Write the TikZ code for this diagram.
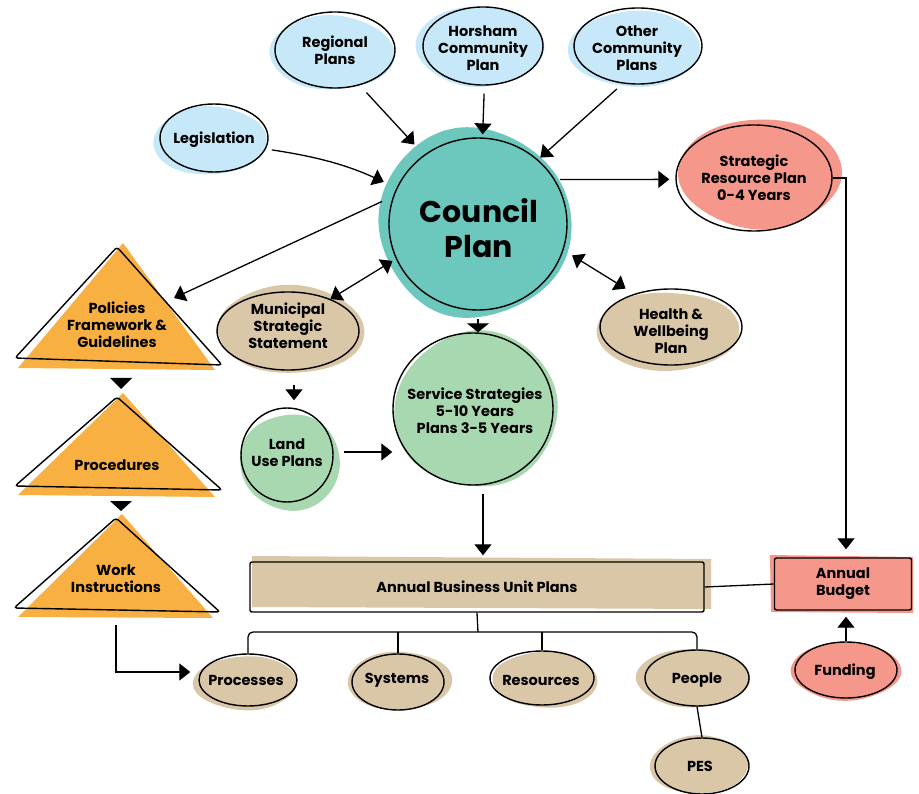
\documentclass[tikz,border=0pt]{standalone}
\usepackage{fontspec}
\setmainfont{Poppins}
\usetikzlibrary{shapes.geometric,arrows.meta,calc}
\definecolor{skyfill}{HTML}{C6E8F8}
\definecolor{tealfill}{HTML}{6CC7BD}
\definecolor{coralfill}{HTML}{F5978A}
\definecolor{sandfill}{HTML}{D9C7A8}
\definecolor{sagefill}{HTML}{A8D8B0}
\definecolor{amberfill}{HTML}{F9B042}

% lopsided colour patch: colour, centre x, centre y, radius x, radius y, phase
\newcommand{\blobfill}[6]{%
  \fill[#1] plot[domain=0:350, samples=36, smooth cycle, variable=\t]
    ({#2+#4*(1+0.025*sin(2*\t+#6))*cos(\t)}, {#3+#5*(1+0.03*sin(3*\t+2*#6))*sin(\t)});}
% outlined oval of fixed size plus its label:
% name, x, y, width, height, label x, label y, text
\newcommand{\ovalnode}[8]{%
  \node[oval, minimum width=#4pt, minimum height=#5pt] (#1) at (#2,#3) {};
  \node[lbl] (#1-t) at (#6,#7) {#8};}

\begin{document}
\begin{tikzpicture}[x=1pt,y=-1pt,
  outline/.style={draw=black, line width=1.4pt},
  txt/.style={font=\bfseries\fontsize{14.5}{17}\selectfont},
  oval/.style={ellipse, outline, inner sep=0pt},
  lbl/.style={align=center, inner sep=0pt, txt},
  box/.style={rectangle, outline, rounded corners=2pt, inner sep=0pt, align=center, txt},
  arr/.style={line width=1.3pt, -{Triangle[length=11pt,width=17pt]}},
  dbl/.style={line width=1.3pt, {Triangle[length=11pt,width=17pt]}-{Triangle[length=11pt,width=17pt]}},
  link/.style={line width=1.3pt},
  smallhead/.style={fill=black},
]
\useasboundingbox (0,0) rectangle (919,794);

% ---- colour patches behind the outlines ----
\blobfill{skyfill}{332}{53}{62}{37}{20}
\blobfill{skyfill}{480}{46}{63}{40}{70}
\blobfill{skyfill}{634}{49}{65}{38}{140}
\blobfill{skyfill}{210}{141}{57}{34}{200}
\blobfill{tealfill}{475}{223}{95}{95}{40}
\blobfill{coralfill}{760}{173}{80}{55}{100}
\blobfill{sandfill}{668}{331}{73}{39}{250}
\blobfill{sandfill}{291}{330}{73}{44}{10}
\blobfill{sagefill}{290}{462}{51}{48}{300}
\blobfill{sagefill}{476}{410}{81}{78}{160}
\blobfill{coralfill}{846}{671}{54}{29}{80}
\blobfill{sandfill}{245}{683}{51}{27}{120}
\blobfill{sandfill}{400}{681}{53}{29}{220}
\blobfill{sandfill}{545}{680}{53}{28}{330}
\blobfill{sandfill}{693}{678}{56}{29}{60}
\blobfill{sandfill}{699}{765}{49}{29}{180}
\fill[sandfill] (252,556) -- (711,559) -- (711,609) -- (252,607) -- cycle;
\fill[coralfill] (770,555) -- (913,557) -- (913,613) -- (771,612) -- cycle;

% ---- triangles on the left ----
\fill[amberfill] (123,243) -- (215,370) -- (18,368) -- cycle;
\fill[amberfill] (123,393) -- (215,497) -- (18,495) -- cycle;
\fill[amberfill] (122,514) -- (213,618) -- (18,617) -- cycle;
\draw[outline, rounded corners=3pt] (117,247) -- (222,365) -- (15,358) -- cycle;
\draw[outline, rounded corners=3pt] (117,397) -- (222,490) -- (15,486) -- cycle;
\draw[outline, rounded corners=3pt] (116,518) -- (220,612) -- (14,608) -- cycle;
\node[lbl] (pol) at (117,325) {Policies\\Framework \&\\Guidelines};
\node[lbl] (prc) at (117,465) {Procedures};
\node[lbl] (wi) at (116,579) {Work\\Instructions};
\fill[smallhead] (110,378) -- (132,378) -- (121,389) -- cycle;
\fill[smallhead] (110,501) -- (132,501) -- (121,511) -- cycle;
\coordinate (polR) at (174,298);
\coordinate (wiB) at (116,625);

% ---- outlined nodes ----
\ovalnode{reg}{335}{50}{120}{76}{335}{50}{Regional\\Plans}
\ovalnode{hor}{483}{46}{120}{78}{483}{48}{Horsham\\Community\\Plan}
\ovalnode{oth}{638}{46}{128}{76}{637}{48}{Other\\Community\\Plans}
\ovalnode{leg}{214}{138}{108}{68}{214}{140}{Legislation}
\node[oval, minimum width=178pt, minimum height=172pt] (cp) at (478,224) {};
\node[lbl, font=\bfseries\fontsize{30}{35}\selectfont] (cp-t) at (479,228) {Council\\Plan};
\ovalnode{srp}{754}{178}{156}{106}{754}{178}{Strategic\\Resource Plan\\0-4 Years}
\ovalnode{hw}{671}{327}{142}{76}{671}{331}{Health \&\\Wellbeing\\Plan}
\ovalnode{mss}{288}{331}{142}{78}{288}{326}{Municipal\\Strategic\\Statement}
\ovalnode{land}{287}{455}{92}{94}{287}{453}{Land\\Use Plans}
\ovalnode{ss}{473}{409}{160}{152}{475}{411}{Service Strategies\\5-10 Years\\Plans 3-5 Years}
\node[box, minimum width=454pt, minimum height=50pt] (abup) at (477,587) {Annual Business Unit Plans};
\node[box, minimum width=137pt, minimum height=52pt] (ab) at (843,584) {};
\node[lbl] (ab-t) at (843,584) {Annual\\Budget};
\ovalnode{fund}{846}{670}{102}{56}{845}{672}{Funding}
\ovalnode{proc}{248}{680}{98}{52}{246}{680}{Processes}
\ovalnode{sys}{398}{682}{92}{56}{397}{680}{Systems}
\ovalnode{res}{542}{678}{104}{54}{541}{680}{Resources}
\ovalnode{ppl}{697}{678}{104}{56}{697}{680}{People}
\ovalnode{pes}{702}{766}{94}{56}{700}{766}{PES}

% ---- connectors ----
\draw[arr, shorten <=10pt, shorten >=14pt] (reg.-55) -- (cp.128);
\draw[arr, shorten <=8pt, shorten >=3pt] (hor.-88) -- (cp.87);
\draw[arr, shorten <=8pt, shorten >=3pt] (oth.-112) -- (cp.47);
\draw[arr, shorten <=6pt, shorten >=14pt] (leg.-12) to[bend left=8] (cp.156);
\draw[arr, shorten <=12pt] (cp.162) -- (polR);
\draw[dbl, shorten >=4pt] (mss.37) -- (cp.203);
\draw[dbl, shorten <=10pt, shorten >=10pt] (cp.-17) -- (hw.138);
\draw[arr, shorten <=5pt, shorten >=6pt] (cp.30) -- (srp.181);
\draw[line width=1.3pt, -{Triangle[length=9pt,width=22pt]}, shorten <=8pt]
  (cp.south) -- (cp.south |- ss.north);
\draw[arr, shorten <=14pt, shorten >=7pt] ([xshift=6pt]mss.south) -- ([xshift=7pt]land.north);
\draw[arr, shorten <=10pt] ([yshift=3pt]land.east) -- ([yshift=3pt]land.east -| ss.west);
\draw[arr, shorten <=8pt, shorten >=6pt] ([xshift=10pt]ss.south) -- ([xshift=6pt]abup.north);
\draw[arr, shorten >=8pt] (srp.east) -| ([xshift=3pt]ab.north);
\draw[link] (abup.east) -- (ab.west);
\draw[arr, shorten >=6pt] (fund.north) -- (fund.north |- ab.south);
\draw[arr, shorten >=8pt] (wiB) |- ([yshift=8pt]proc.west);

% ---- tree below the business unit plans ----
\coordinate (fork) at (478,632);
\draw[link] (abup.south) -- (fork);
\draw[link, rounded corners=5pt] (proc.north) |- (fork) -| (ppl.north);
\draw[link] (sys.north) -- (sys.north |- fork);
\draw[link] (res.north) -- (res.north |- fork);
\draw[link] (ppl.south) -- (pes.north);
\end{tikzpicture}
\end{document}
